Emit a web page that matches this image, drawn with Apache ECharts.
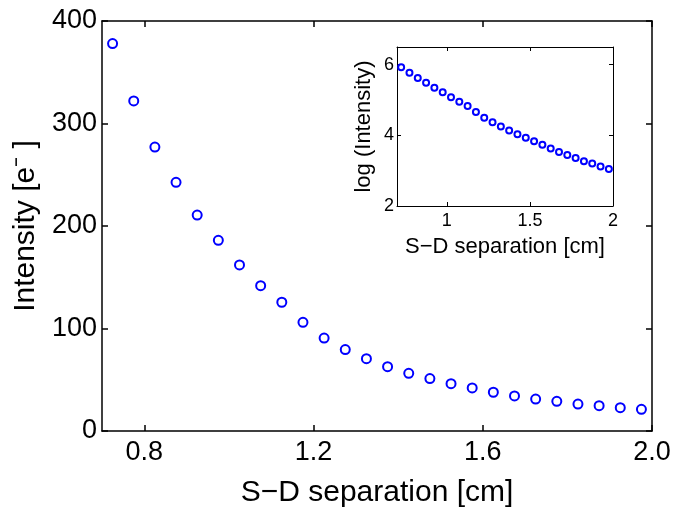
<!DOCTYPE html>
<html>
<head>
<meta charset="utf-8">
<script src="https://cdn.jsdelivr.net/npm/echarts@6/dist/echarts.min.js"></script>
<style>html,body{margin:0;padding:0;background:#fff}#c{width:674px;height:516px}</style>
</head>
<body>
<div id="c"></div>
<script>
// Source-detector separation (cm)
const separation = [0.725,0.775,0.825,0.875,0.925,0.975,1.025,1.075,1.125,1.175,1.225,1.275,1.325,1.375,1.425,1.475,1.525,1.575,1.625,1.675,1.725,1.775,1.825,1.875,1.925,1.975];
// Main panel: intensity [e-]
const intensity = [378,322,277,242.6,210.7,186,162,141.8,125.6,106,90.7,79.4,70.6,62.8,56.3,51.1,46.2,42,37.8,34.2,31.2,29,26.3,24.7,22.8,21.2];
// Inset: log(intensity)
const logIntensity = [5.93,5.77,5.62,5.49,5.35,5.22,5.08,4.95,4.83,4.66,4.50,4.37,4.25,4.14,4.03,3.93,3.83,3.73,3.63,3.53,3.44,3.36,3.27,3.20,3.12,3.05];
// Tick values
const mainXTicks = [0.8,1.2,1.6,2.0];
const insetXTicks = [1,1.5,2];
const insetYTicks = [2,4,6];

const FONT = 'Liberation Sans, Arial, Helvetica, sans-serif';
const chart = echarts.init(document.getElementById('c'), null, {renderer:'canvas'});

function xAx(grid, pos, min, max, ticks, showLabel, fs, lw, fmt, extra){
  return Object.assign({
    type:'value', gridIndex:grid, position:pos, min:min, max:max,
    axisLine:{show:true, onZero:false, lineStyle:{color:'#000', width:lw}},
    axisTick:{show:true, inside:true, length:grid===0?6:4, customValues:ticks, lineStyle:{color:'#000', width:lw}},
    axisLabel:{show:showLabel, customValues:ticks, color:'#000', fontSize:fs, fontFamily:FONT, formatter:fmt},
    splitLine:{show:false}
  }, extra||{});
}

const option = {
  backgroundColor:'#fff',
  animation:false,
  grid:[
    {left:102, top:21, width:550, height:410, show:false},
    {left:397, top:47, width:216, height:159, show:true, backgroundColor:'#fff', borderWidth:0}
  ],
  xAxis:[
    xAx(0,'bottom',0.7,2.0,mainXTicks,true,27,1.5,v=>v.toFixed(1),{
      name:'S\u2212D separation [cm]', nameLocation:'middle', nameGap:47,
      nameTextStyle:{fontSize:30, fontFamily:FONT, color:'#000'},
      axisLabel:{show:true, customValues:mainXTicks, color:'#000', fontSize:27, fontFamily:FONT, margin:8, formatter:v=>v.toFixed(1)}
    }),
    xAx(0,'top',0.7,2.0,mainXTicks,false,27,1.5,null),
    xAx(1,'bottom',0.7,2.0,insetXTicks,true,18,1,v=>String(v),{
      name:'S\u2212D separation [cm]', nameLocation:'middle', nameGap:30,
      nameTextStyle:{fontSize:22, fontFamily:FONT, color:'#000'},
      axisLabel:{show:true, customValues:insetXTicks, color:'#000', fontSize:18, fontFamily:FONT, margin:6, formatter:v=>String(v)}
    }),
    xAx(1,'top',0.7,2.0,insetXTicks,false,18,1,null)
  ],
  yAxis:[
    {type:'value', gridIndex:0, position:'left', min:0, max:400, interval:100,
     name:'Intensity [e\u207B ]', nameLocation:'middle', nameGap:60,
     nameTextStyle:{fontSize:30, fontFamily:FONT, color:'#000'},
     axisLine:{show:true,onZero:false,lineStyle:{color:'#000',width:1.5}},
     axisTick:{show:true,inside:true,length:6,lineStyle:{color:'#000',width:1.5}},
     axisLabel:{color:'#000',fontSize:27,fontFamily:FONT,margin:5},
     splitLine:{show:false}},
    {type:'value', gridIndex:0, position:'right', min:0, max:400, interval:100,
     axisLine:{show:true,onZero:false,lineStyle:{color:'#000',width:1.5}},
     axisTick:{show:true,inside:true,length:6,lineStyle:{color:'#000',width:1.5}},
     axisLabel:{show:false}, splitLine:{show:false}},
    {type:'value', gridIndex:1, position:'left', min:2, max:6.5,
     name:'log (Intensity)', nameLocation:'middle', nameGap:22,
     nameTextStyle:{fontSize:22, fontFamily:FONT, color:'#000'},
     axisLine:{show:true,onZero:false,lineStyle:{color:'#000',width:1}},
     axisTick:{show:true,inside:true,length:4,customValues:insetYTicks,lineStyle:{color:'#000',width:1}},
     axisLabel:{customValues:insetYTicks,color:'#000',fontSize:18,fontFamily:FONT,margin:3},
     splitLine:{show:false}},
    {type:'value', gridIndex:1, position:'right', min:2, max:6.5,
     axisLine:{show:true,onZero:false,lineStyle:{color:'#000',width:1}},
     axisTick:{show:true,inside:true,length:4,customValues:insetYTicks,lineStyle:{color:'#000',width:1}},
     axisLabel:{show:false}, splitLine:{show:false}}
  ],
  series:[
    {type:'scatter', xAxisIndex:0, yAxisIndex:0, symbol:'emptyCircle', symbolSize:9,
     itemStyle:{color:'#0000ff', borderColor:'#0000ff', borderWidth:2, opacity:1},
     data:separation.map((x,i)=>[x,intensity[i]])},
    {type:'scatter', xAxisIndex:2, yAxisIndex:2, symbol:'emptyCircle', symbolSize:6,
     itemStyle:{color:'#0000ff', borderColor:'#0000ff', borderWidth:1.5, opacity:1},
     data:separation.map((x,i)=>[x,logIntensity[i]])}
  ]
};
chart.setOption(option);
</script>
</body>
</html>
